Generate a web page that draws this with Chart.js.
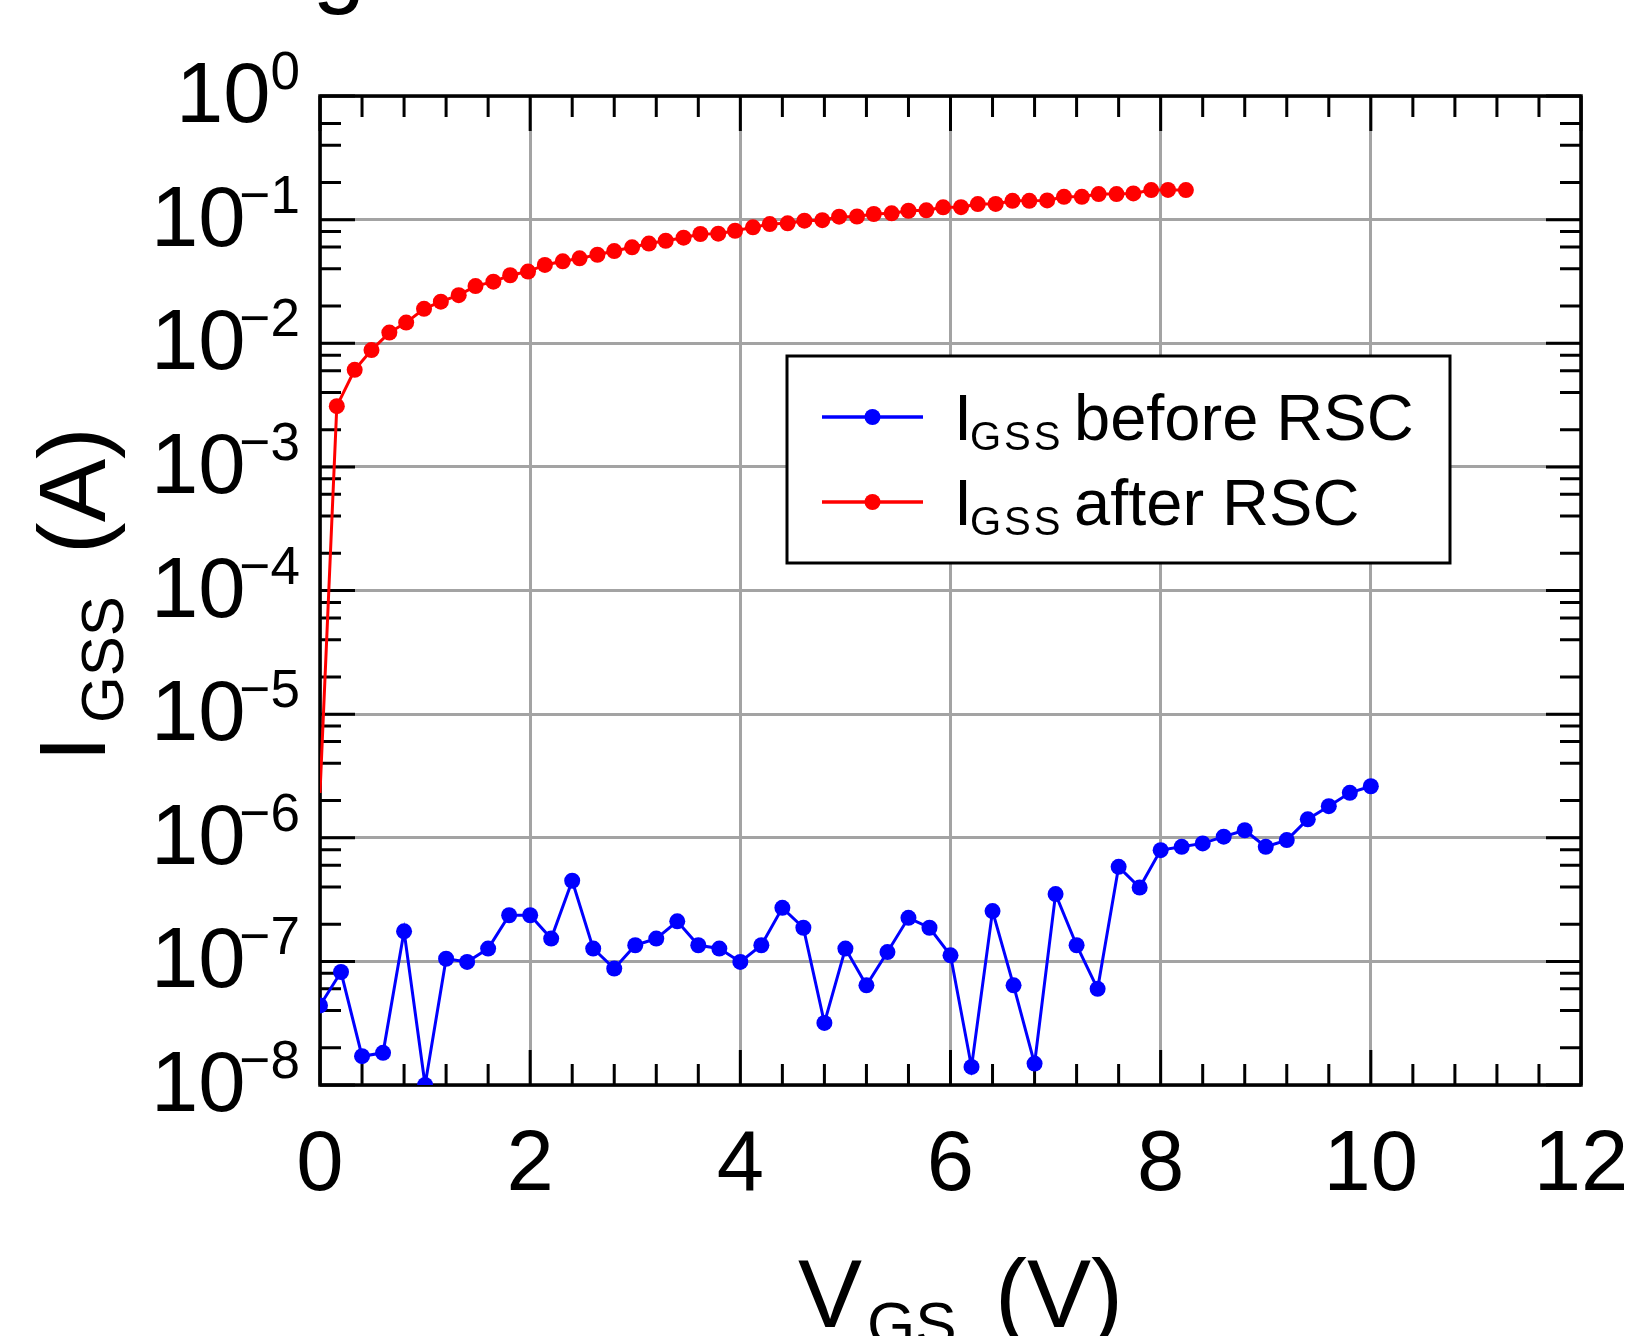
<!DOCTYPE html>
<html>
<head>
<meta charset="utf-8">
<script src="https://cdn.jsdelivr.net/npm/chart.js@4.4.0/dist/chart.umd.min.js"></script>
<style>
  html, body { margin: 0; padding: 0; background: #fff; }
  canvas { display: block; }
</style>
</head>
<body>
<canvas id="chartIgss" width="1635" height="1336"></canvas>
<script>
// Data
var vgsBefore = [0, 0.2, 0.4, 0.6, 0.8, 1.0, 1.2, 1.4, 1.6, 1.8, 2.0, 2.2, 2.4, 2.6, 2.8, 3.0, 3.2, 3.4, 3.6, 3.8,
    4.0, 4.2, 4.4, 4.6, 4.8, 5.0, 5.2, 5.4, 5.6, 5.8, 6.0, 6.2, 6.4, 6.6, 6.8, 7.0, 7.2, 7.4, 7.6, 7.8,
    8.0, 8.2, 8.4, 8.6, 8.8, 9.0, 9.2, 9.4, 9.6, 9.8, 10.0];
var igssBefore = [4.4e-8, 8.2e-8, 1.71e-8, 1.82e-8, 1.75e-7, 1.0e-8, 1.05e-7, 9.9e-8, 1.27e-7, 2.36e-7,
    2.36e-7, 1.53e-7, 4.49e-7, 1.27e-7, 8.75e-8, 1.35e-7, 1.53e-7, 2.11e-7, 1.35e-7, 1.27e-7,
    9.9e-8, 1.35e-7, 2.71e-7, 1.87e-7, 3.18e-8, 1.27e-7, 6.4e-8, 1.19e-7, 2.25e-7, 1.87e-7,
    1.12e-7, 1.4e-8, 2.55e-7, 6.4e-8, 1.49e-8, 3.5e-7, 1.35e-7, 6.0e-8, 5.82e-7, 3.96e-7,
    7.94e-7, 8.45e-7, 9.0e-7, 1.02e-6, 1.15e-6, 8.45e-7, 9.57e-7, 1.41e-6, 1.8e-6, 2.31e-6, 2.61e-6];

var vgsAfter = [0, 0.16, 0.33, 0.49, 0.66, 0.82, 0.99, 1.15, 1.32, 1.48, 1.65, 1.81, 1.98, 2.14, 2.31, 2.47,
    2.64, 2.80, 2.97, 3.13, 3.29, 3.46, 3.62, 3.79, 3.95, 4.12, 4.28, 4.45, 4.61, 4.78, 4.94,
    5.11, 5.27, 5.44, 5.60, 5.77, 5.93, 6.10, 6.26, 6.43, 6.59, 6.75, 6.92, 7.08, 7.25, 7.41,
    7.58, 7.74, 7.91, 8.07, 8.24];
var igssAfter = [2.3e-6, 3.1e-3, 6.1e-3, 8.8e-3, 0.0122, 0.0147, 0.019, 0.0217, 0.0245, 0.029, 0.0315,
    0.0355, 0.038, 0.043, 0.046, 0.0486, 0.052, 0.0557, 0.0597, 0.064, 0.0675,
    0.0714, 0.0765, 0.077, 0.0813, 0.0866, 0.092, 0.0933, 0.098, 0.099, 0.1057,
    0.106, 0.111, 0.1125, 0.118, 0.119, 0.1257, 0.126, 0.1337, 0.134, 0.142,
    0.142, 0.143, 0.153, 0.153, 0.161, 0.161, 0.163, 0.1735, 0.174, 0.1735];

var xTicks = [0, 2, 4, 6, 8, 10, 12];
var yExponents = [0, -1, -2, -3, -4, -5, -6, -7, -8];
var legendLabels = [['I', 'GSS', 'before RSC'], ['I', 'GSS', 'after RSC']];

var FONT = '"Liberation Sans", Arial, Helvetica, sans-serif';
function font(px) { return px + 'px ' + FONT; }

function toPoints(xs, ys) {
    return xs.map(function (x, i) { return { x: x, y: ys[i] }; });
}

// frame + inward ticks on all four sides
var framePlugin = {
    id: 'frame',
    beforeDatasetsDraw: function (chart) {
        var c = chart.ctx, a = chart.chartArea;
        var xs = chart.scales.x, ys = chart.scales.y;
        var majorLen = 35, minorLen = 21;
        c.save();
        c.strokeStyle = '#000';
        c.lineWidth = 3;
        c.lineCap = 'butt';
        function tickX(px, len) {
            c.beginPath();
            c.moveTo(px, a.bottom); c.lineTo(px, a.bottom - len);
            c.moveTo(px, a.top); c.lineTo(px, a.top + len);
            c.stroke();
        }
        function tickY(py, len) {
            c.beginPath();
            c.moveTo(a.left, py); c.lineTo(a.left + len, py);
            c.moveTo(a.right, py); c.lineTo(a.right - len, py);
            c.stroke();
        }
        for (var i = 0; i < xTicks.length; i++) {
            tickX(xs.getPixelForValue(xTicks[i]), majorLen);
            if (i < xTicks.length - 1) {
                for (var k = 1; k < 5; k++) {
                    tickX(xs.getPixelForValue(xTicks[i] + k * 0.4), minorLen);
                }
            }
        }
        yExponents.forEach(function (e) {
            tickY(ys.getPixelForValue(Math.pow(10, e)), majorLen);
            if (e > -8) {
                [2, 4, 6, 8].forEach(function (m) {
                    var v = m * Math.pow(10, e - 1);
                    if (v < 0.7) tickY(ys.getPixelForValue(v), minorLen);
                });
            }
        });
        c.lineWidth = 3.5;
        c.strokeRect(a.left, a.top, a.right - a.left, a.bottom - a.top);
        c.restore();
    }
};

// tick labels, axis titles and legend with sub/superscripts
var textPlugin = {
    id: 'texts',
    afterDraw: function (chart) {
        var c = chart.ctx;
        var xs = chart.scales.x, ys = chart.scales.y;
        c.save();
        c.fillStyle = '#000';
        c.textBaseline = 'alphabetic';

        // cut-off title remnant at the very top
        c.font = font(95);
        c.textAlign = 'center';
        c.fillText('g', 339, -5);

        // y tick labels 10^n
        yExponents.forEach(function (e) {
            var py = ys.getPixelForValue(Math.pow(10, e));
            var base = py + 26;
            var sup = e === 0 ? '0' : '\u2212' + (-e);
            c.font = font(53);
            c.textAlign = 'right';
            c.fillText(sup, 300, base - 33);
            var supW = c.measureText(sup).width;
            c.font = font(85);
            c.fillText('10', 300 - supW + (e === 0 ? 0 : 6), base);
        });

        // x tick labels
        c.font = font(85);
        c.textAlign = 'center';
        xTicks.forEach(function (v) {
            c.fillText(String(v), xs.getPixelForValue(v), 1190);
        });

        // x title: V_GS (V)
        c.textAlign = 'left';
        c.font = font(96);
        c.fillText('V', 798, 1327);
        c.font = font(62);
        c.fillText('GS', 867, 1345);
        c.font = font(96);
        c.fillText('(V)', 995, 1327);

        // y title: I_GSS (A), rotated
        c.save();
        c.translate(105, 762);
        c.rotate(-Math.PI / 2);
        c.font = font(95);
        c.fillText('I', 0, 0);
        c.font = font(60);
        c.fillText('GSS', 39, 18);
        c.font = font(95);
        c.fillText('(A)', 208, 0);
        c.restore();

        // legend
        var box = { x: 787, y: 356, w: 663, h: 207 };
        c.fillStyle = '#fff';
        c.fillRect(box.x, box.y, box.w, box.h);
        c.strokeStyle = '#000';
        c.lineWidth = 3;
        c.strokeRect(box.x, box.y, box.w, box.h);
        var rowY = [417, 502];
        chart.data.datasets.forEach(function (ds, i) {
            var y = rowY[i];
            c.strokeStyle = ds.borderColor;
            c.lineWidth = 3.5;
            c.beginPath();
            c.moveTo(822, y); c.lineTo(923, y);
            c.stroke();
            c.fillStyle = ds.backgroundColor;
            c.beginPath();
            c.arc(872.5, y, 8, 0, Math.PI * 2);
            c.fill();
            var lab = legendLabels[i];
            c.fillStyle = '#000';
            c.font = font(65);
            c.fillText(lab[0], 954, y + 23);
            c.font = font(40);
            c.letterSpacing = '3px';
            c.fillText(lab[1], 970, y + 33);
            c.letterSpacing = '0px';
            c.font = font(65);
            c.fillText(lab[2], 1074, y + 23);
        });
        c.restore();
    }
};

var gridStyle = { color: '#a3a3a3', lineWidth: 3, drawTicks: false };

var ctx = document.getElementById('chartIgss').getContext('2d');
var igssChart = new Chart(ctx, {
    type: 'scatter',
    data: {
        datasets: [{
            label: 'IGSS before RSC',
            data: toPoints(vgsBefore, igssBefore),
            showLine: true,
            borderColor: '#0000ff',
            backgroundColor: '#0000ff',
            borderWidth: 3,
            pointRadius: 8,
            pointHoverRadius: 8,
            pointBorderWidth: 0,
            clip: 0
        }, {
            label: 'IGSS after RSC',
            data: toPoints(vgsAfter, igssAfter),
            showLine: true,
            borderColor: '#ff0000',
            backgroundColor: '#ff0000',
            borderWidth: 3,
            pointRadius: function (c) { return c.dataIndex === 0 ? 0 : 8; },
            pointHoverRadius: 8,
            pointBorderWidth: 0,
            clip: 0
        }]
    },
    options: {
        responsive: false,
        animation: false,
        devicePixelRatio: 1,
        events: [],
        layout: { padding: { left: 320, top: 96, right: 54, bottom: 251 } },
        plugins: {
            legend: { display: false },
            tooltip: { enabled: false }
        },
        scales: {
            x: {
                type: 'linear',
                min: 0,
                max: 12,
                afterBuildTicks: function (s) {
                    s.ticks = xTicks.map(function (v) { return { value: v }; });
                },
                ticks: { display: false },
                grid: gridStyle,
                border: { display: false }
            },
            y: {
                type: 'logarithmic',
                min: 1e-8,
                max: 1,
                afterBuildTicks: function (s) {
                    s.ticks = yExponents.map(function (e) { return { value: Math.pow(10, e) }; });
                },
                ticks: { display: false },
                grid: gridStyle,
                border: { display: false }
            }
        }
    },
    plugins: [framePlugin, textPlugin]
});
</script>
</body>
</html>
